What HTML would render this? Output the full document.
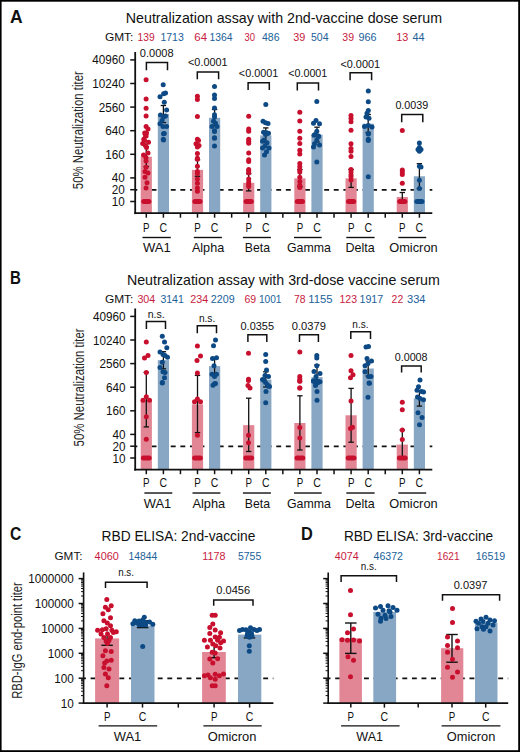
<!DOCTYPE html><html><head><meta charset="utf-8"><style>html,body{margin:0;padding:0;background:#000;width:520px;height:752px;overflow:hidden;font-family:"Liberation Sans",sans-serif;}svg{display:block;}</style></head><body>
<svg width="520" height="752" viewBox="0 0 520 752" font-family='"Liberation Sans", sans-serif'>
<rect x="0" y="0" width="520" height="752" fill="#000"/>
<rect x="1.6" y="1.7" width="516.6" height="748.5" fill="#fff"/>
<g id="A">
<text x="10" y="22.8" font-size="17.5" fill="#111" font-weight="bold">A</text>
<text x="125.8" y="23.3" font-size="14.5" fill="#111" font-weight="normal" textLength="316.2" lengthAdjust="spacingAndGlyphs">Neutralization assay with 2nd-vaccine dose serum</text>
<text x="104.9" y="41" font-size="10.8" fill="#111" font-weight="normal" textLength="28.5" lengthAdjust="spacingAndGlyphs">GMT:</text>
<text x="137.5" y="41" font-size="10.8" fill="#c81a3e" font-weight="normal" textLength="17.1" lengthAdjust="spacingAndGlyphs">139</text>
<text x="160.4" y="41" font-size="10.8" fill="#215f9a" font-weight="normal" textLength="23.4" lengthAdjust="spacingAndGlyphs">1713</text>
<text x="194.3" y="41" font-size="10.8" fill="#c81a3e" font-weight="normal" textLength="12.7" lengthAdjust="spacingAndGlyphs">64</text>
<text x="209.5" y="41" font-size="10.8" fill="#215f9a" font-weight="normal" textLength="23" lengthAdjust="spacingAndGlyphs">1364</text>
<text x="244.5" y="41" font-size="10.8" fill="#c81a3e" font-weight="normal" textLength="10.5" lengthAdjust="spacingAndGlyphs">30</text>
<text x="262" y="41" font-size="10.8" fill="#215f9a" font-weight="normal" textLength="17.5" lengthAdjust="spacingAndGlyphs">486</text>
<text x="293.3" y="41" font-size="10.8" fill="#c81a3e" font-weight="normal" textLength="12.1" lengthAdjust="spacingAndGlyphs">39</text>
<text x="311" y="41" font-size="10.8" fill="#215f9a" font-weight="normal" textLength="17.6" lengthAdjust="spacingAndGlyphs">504</text>
<text x="342.3" y="41" font-size="10.8" fill="#c81a3e" font-weight="normal" textLength="11.7" lengthAdjust="spacingAndGlyphs">39</text>
<text x="358.6" y="41" font-size="10.8" fill="#215f9a" font-weight="normal" textLength="18" lengthAdjust="spacingAndGlyphs">966</text>
<text x="396.2" y="41" font-size="10.8" fill="#c81a3e" font-weight="normal" textLength="12.1" lengthAdjust="spacingAndGlyphs">13</text>
<text x="412.5" y="41" font-size="10.8" fill="#215f9a" font-weight="normal" textLength="12.1" lengthAdjust="spacingAndGlyphs">44</text>
<line x1="135.2" y1="189.9" x2="432.3" y2="189.9" stroke="#111" stroke-width="1.8" stroke-dasharray="4.9 4.69" stroke-dashoffset="-6.8"/>
<rect x="140.7" y="156.7" width="11.2" height="56.3" fill="#e28696"/>
<rect x="157.8" y="113.94" width="11.2" height="99.06" fill="#88a7c4"/>
<rect x="191.9" y="169.9" width="11.2" height="43.1" fill="#e28696"/>
<rect x="209" y="117.82" width="11.2" height="95.18" fill="#88a7c4"/>
<rect x="243.1" y="182.8" width="11.2" height="30.2" fill="#e28696"/>
<rect x="260.2" y="135.39" width="11.2" height="77.61" fill="#88a7c4"/>
<rect x="294.3" y="178.33" width="11.2" height="34.67" fill="#e28696"/>
<rect x="311.4" y="134.77" width="11.2" height="78.23" fill="#88a7c4"/>
<rect x="345.5" y="178.33" width="11.2" height="34.67" fill="#e28696"/>
<rect x="362.6" y="123.69" width="11.2" height="89.31" fill="#88a7c4"/>
<rect x="396.7" y="197.03" width="11.2" height="15.97" fill="#e28696"/>
<rect x="413.8" y="176.28" width="11.2" height="36.72" fill="#88a7c4"/>
<line x1="146.3" y1="146.5" x2="146.3" y2="166.5" stroke="#111" stroke-width="1.3" />
<line x1="143.6" y1="146.5" x2="149" y2="146.5" stroke="#111" stroke-width="1.3" />
<line x1="143.6" y1="166.5" x2="149" y2="166.5" stroke="#111" stroke-width="1.3" />
<line x1="163.4" y1="105.5" x2="163.4" y2="122.6" stroke="#111" stroke-width="1.3" />
<line x1="160.7" y1="105.5" x2="166.1" y2="105.5" stroke="#111" stroke-width="1.3" />
<line x1="160.7" y1="122.6" x2="166.1" y2="122.6" stroke="#111" stroke-width="1.3" />
<line x1="197.5" y1="159.8" x2="197.5" y2="176.3" stroke="#111" stroke-width="1.3" />
<line x1="194.8" y1="159.8" x2="200.2" y2="159.8" stroke="#111" stroke-width="1.3" />
<line x1="194.8" y1="176.3" x2="200.2" y2="176.3" stroke="#111" stroke-width="1.3" />
<line x1="214.6" y1="109.5" x2="214.6" y2="125.7" stroke="#111" stroke-width="1.3" />
<line x1="211.9" y1="109.5" x2="217.3" y2="109.5" stroke="#111" stroke-width="1.3" />
<line x1="211.9" y1="125.7" x2="217.3" y2="125.7" stroke="#111" stroke-width="1.3" />
<line x1="248.7" y1="173.6" x2="248.7" y2="190.9" stroke="#111" stroke-width="1.3" />
<line x1="246" y1="173.6" x2="251.4" y2="173.6" stroke="#111" stroke-width="1.3" />
<line x1="246" y1="190.9" x2="251.4" y2="190.9" stroke="#111" stroke-width="1.3" />
<line x1="265.8" y1="127.9" x2="265.8" y2="142.5" stroke="#111" stroke-width="1.3" />
<line x1="263.1" y1="127.9" x2="268.5" y2="127.9" stroke="#111" stroke-width="1.3" />
<line x1="263.1" y1="142.5" x2="268.5" y2="142.5" stroke="#111" stroke-width="1.3" />
<line x1="299.9" y1="169.5" x2="299.9" y2="186.7" stroke="#111" stroke-width="1.3" />
<line x1="297.2" y1="169.5" x2="302.6" y2="169.5" stroke="#111" stroke-width="1.3" />
<line x1="297.2" y1="186.7" x2="302.6" y2="186.7" stroke="#111" stroke-width="1.3" />
<line x1="317" y1="127.2" x2="317" y2="142" stroke="#111" stroke-width="1.3" />
<line x1="314.3" y1="127.2" x2="319.7" y2="127.2" stroke="#111" stroke-width="1.3" />
<line x1="314.3" y1="142" x2="319.7" y2="142" stroke="#111" stroke-width="1.3" />
<line x1="351.1" y1="169.5" x2="351.1" y2="187.4" stroke="#111" stroke-width="1.3" />
<line x1="348.4" y1="169.5" x2="353.8" y2="169.5" stroke="#111" stroke-width="1.3" />
<line x1="348.4" y1="187.4" x2="353.8" y2="187.4" stroke="#111" stroke-width="1.3" />
<line x1="368.2" y1="114.5" x2="368.2" y2="132.5" stroke="#111" stroke-width="1.3" />
<line x1="365.5" y1="114.5" x2="370.9" y2="114.5" stroke="#111" stroke-width="1.3" />
<line x1="365.5" y1="132.5" x2="370.9" y2="132.5" stroke="#111" stroke-width="1.3" />
<line x1="402.3" y1="192.5" x2="402.3" y2="201" stroke="#111" stroke-width="1.3" />
<line x1="399.6" y1="192.5" x2="405" y2="192.5" stroke="#111" stroke-width="1.3" />
<line x1="399.6" y1="201" x2="405" y2="201" stroke="#111" stroke-width="1.3" />
<line x1="419.4" y1="163.7" x2="419.4" y2="188.6" stroke="#111" stroke-width="1.3" />
<line x1="416.7" y1="163.7" x2="422.1" y2="163.7" stroke="#111" stroke-width="1.3" />
<line x1="416.7" y1="188.6" x2="422.1" y2="188.6" stroke="#111" stroke-width="1.3" />
<circle cx="146.1" cy="79.7" r="2.5" fill="#c8102e"/>
<circle cx="146.1" cy="99.1" r="2.5" fill="#c8102e"/>
<circle cx="146.1" cy="108.2" r="2.5" fill="#c8102e"/>
<circle cx="146.1" cy="116.1" r="2.5" fill="#c8102e"/>
<circle cx="146.1" cy="126.5" r="2.5" fill="#c8102e"/>
<circle cx="148" cy="129" r="2.5" fill="#c8102e"/>
<circle cx="144.7" cy="132.9" r="2.5" fill="#c8102e"/>
<circle cx="146.1" cy="136" r="2.5" fill="#c8102e"/>
<circle cx="143.8" cy="139.3" r="2.5" fill="#c8102e"/>
<circle cx="146.5" cy="133" r="2.5" fill="#c8102e"/>
<circle cx="145.5" cy="135.9" r="2.5" fill="#c8102e"/>
<circle cx="144.5" cy="140.6" r="2.5" fill="#c8102e"/>
<circle cx="148.5" cy="142.2" r="2.5" fill="#c8102e"/>
<circle cx="142.7" cy="143.6" r="2.5" fill="#c8102e"/>
<circle cx="145.5" cy="145.4" r="2.5" fill="#c8102e"/>
<circle cx="146.5" cy="147.6" r="2.5" fill="#c8102e"/>
<circle cx="148" cy="152.9" r="2.5" fill="#c8102e"/>
<circle cx="143.5" cy="155" r="2.5" fill="#c8102e"/>
<circle cx="146" cy="157.7" r="2.5" fill="#c8102e"/>
<circle cx="146" cy="160.9" r="2.5" fill="#c8102e"/>
<circle cx="146" cy="167.2" r="2.5" fill="#c8102e"/>
<circle cx="145" cy="171.5" r="2.5" fill="#c8102e"/>
<circle cx="148" cy="173.1" r="2.5" fill="#c8102e"/>
<circle cx="145" cy="177.3" r="2.5" fill="#c8102e"/>
<circle cx="147" cy="182.7" r="2.5" fill="#c8102e"/>
<circle cx="146" cy="188" r="2.5" fill="#c8102e"/>
<circle cx="163.2" cy="84.7" r="2.5" fill="#0d4a85"/>
<circle cx="165.5" cy="93" r="2.5" fill="#0d4a85"/>
<circle cx="163.6" cy="93.8" r="2.5" fill="#0d4a85"/>
<circle cx="160" cy="96.7" r="2.5" fill="#0d4a85"/>
<circle cx="164.3" cy="102.3" r="2.5" fill="#0d4a85"/>
<circle cx="166.6" cy="110" r="2.5" fill="#0d4a85"/>
<circle cx="160.5" cy="115" r="2.5" fill="#0d4a85"/>
<circle cx="163.6" cy="117" r="2.5" fill="#0d4a85"/>
<circle cx="165.5" cy="116" r="2.5" fill="#0d4a85"/>
<circle cx="162" cy="120.6" r="2.5" fill="#0d4a85"/>
<circle cx="160" cy="123.8" r="2.5" fill="#0d4a85"/>
<circle cx="163" cy="126.5" r="2.5" fill="#0d4a85"/>
<circle cx="166.6" cy="126.5" r="2.5" fill="#0d4a85"/>
<circle cx="164.3" cy="133.4" r="2.5" fill="#0d4a85"/>
<circle cx="163.3" cy="139.3" r="2.5" fill="#0d4a85"/>
<circle cx="163.5" cy="133.7" r="2.5" fill="#0d4a85"/>
<circle cx="163.5" cy="140.1" r="2.5" fill="#0d4a85"/>
<circle cx="197.4" cy="96.2" r="2.5" fill="#c8102e"/>
<circle cx="197.4" cy="99.6" r="2.5" fill="#c8102e"/>
<circle cx="197.4" cy="116.4" r="2.5" fill="#c8102e"/>
<circle cx="197.4" cy="139.3" r="2.5" fill="#c8102e"/>
<circle cx="198.5" cy="140.6" r="2.5" fill="#c8102e"/>
<circle cx="196" cy="143.8" r="2.5" fill="#c8102e"/>
<circle cx="199" cy="145.4" r="2.5" fill="#c8102e"/>
<circle cx="197.4" cy="147" r="2.5" fill="#c8102e"/>
<circle cx="197.4" cy="153.4" r="2.5" fill="#c8102e"/>
<circle cx="197.4" cy="158.2" r="2.5" fill="#c8102e"/>
<circle cx="197.4" cy="159.3" r="2.5" fill="#c8102e"/>
<circle cx="197.4" cy="166.2" r="2.5" fill="#c8102e"/>
<circle cx="197.4" cy="171.5" r="2.5" fill="#c8102e"/>
<circle cx="197.4" cy="173.6" r="2.5" fill="#c8102e"/>
<circle cx="197.4" cy="178.9" r="2.5" fill="#c8102e"/>
<circle cx="197.4" cy="183.2" r="2.5" fill="#c8102e"/>
<circle cx="197.4" cy="188" r="2.5" fill="#c8102e"/>
<circle cx="197.4" cy="191.2" r="2.5" fill="#c8102e"/>
<circle cx="214.5" cy="86.6" r="2.5" fill="#0d4a85"/>
<circle cx="214.5" cy="95.1" r="2.5" fill="#0d4a85"/>
<circle cx="214.5" cy="98.5" r="2.5" fill="#0d4a85"/>
<circle cx="214.5" cy="107.9" r="2.5" fill="#0d4a85"/>
<circle cx="214.5" cy="114.8" r="2.5" fill="#0d4a85"/>
<circle cx="214.5" cy="116.9" r="2.5" fill="#0d4a85"/>
<circle cx="213.5" cy="121.2" r="2.5" fill="#0d4a85"/>
<circle cx="215.5" cy="123.3" r="2.5" fill="#0d4a85"/>
<circle cx="212" cy="126.5" r="2.5" fill="#0d4a85"/>
<circle cx="217" cy="126.5" r="2.5" fill="#0d4a85"/>
<circle cx="214.5" cy="130.7" r="2.5" fill="#0d4a85"/>
<circle cx="214.5" cy="137.7" r="2.5" fill="#0d4a85"/>
<circle cx="214.5" cy="131.6" r="2.5" fill="#0d4a85"/>
<circle cx="214.5" cy="138.3" r="2.5" fill="#0d4a85"/>
<circle cx="214.5" cy="146" r="2.5" fill="#0d4a85"/>
<circle cx="248.7" cy="116.2" r="2.5" fill="#c8102e"/>
<circle cx="248.7" cy="129.1" r="2.5" fill="#c8102e"/>
<circle cx="248.7" cy="131.3" r="2.5" fill="#c8102e"/>
<circle cx="248.7" cy="139.3" r="2.5" fill="#c8102e"/>
<circle cx="248.7" cy="141.2" r="2.5" fill="#c8102e"/>
<circle cx="248.7" cy="143.3" r="2.5" fill="#c8102e"/>
<circle cx="248.7" cy="152.9" r="2.5" fill="#c8102e"/>
<circle cx="248.7" cy="159.8" r="2.5" fill="#c8102e"/>
<circle cx="248.7" cy="161.4" r="2.5" fill="#c8102e"/>
<circle cx="248.7" cy="169.4" r="2.5" fill="#c8102e"/>
<circle cx="248.7" cy="171" r="2.5" fill="#c8102e"/>
<circle cx="248.7" cy="173.1" r="2.5" fill="#c8102e"/>
<circle cx="248.7" cy="178.9" r="2.5" fill="#c8102e"/>
<circle cx="248.7" cy="182.1" r="2.5" fill="#c8102e"/>
<circle cx="248.7" cy="184.3" r="2.5" fill="#c8102e"/>
<circle cx="248.7" cy="186.4" r="2.5" fill="#c8102e"/>
<circle cx="265.8" cy="104.5" r="2.5" fill="#0d4a85"/>
<circle cx="263" cy="121.2" r="2.5" fill="#0d4a85"/>
<circle cx="265.5" cy="122.8" r="2.5" fill="#0d4a85"/>
<circle cx="268" cy="123.6" r="2.5" fill="#0d4a85"/>
<circle cx="263.5" cy="132.3" r="2.5" fill="#0d4a85"/>
<circle cx="267" cy="133.4" r="2.5" fill="#0d4a85"/>
<circle cx="265.5" cy="134.5" r="2.5" fill="#0d4a85"/>
<circle cx="266.5" cy="132.7" r="2.5" fill="#0d4a85"/>
<circle cx="268.5" cy="133.2" r="2.5" fill="#0d4a85"/>
<circle cx="264" cy="140.1" r="2.5" fill="#0d4a85"/>
<circle cx="262.5" cy="141.2" r="2.5" fill="#0d4a85"/>
<circle cx="267" cy="142.8" r="2.5" fill="#0d4a85"/>
<circle cx="265" cy="146" r="2.5" fill="#0d4a85"/>
<circle cx="262.5" cy="148.1" r="2.5" fill="#0d4a85"/>
<circle cx="269" cy="148.1" r="2.5" fill="#0d4a85"/>
<circle cx="266.5" cy="151.8" r="2.5" fill="#0d4a85"/>
<circle cx="264.5" cy="155" r="2.5" fill="#0d4a85"/>
<circle cx="299.8" cy="112.3" r="2.5" fill="#c8102e"/>
<circle cx="299.8" cy="121" r="2.5" fill="#c8102e"/>
<circle cx="299.8" cy="131.3" r="2.5" fill="#c8102e"/>
<circle cx="299.8" cy="138.2" r="2.5" fill="#c8102e"/>
<circle cx="299.8" cy="143.6" r="2.5" fill="#c8102e"/>
<circle cx="299.8" cy="150.2" r="2.5" fill="#c8102e"/>
<circle cx="299.8" cy="153.9" r="2.5" fill="#c8102e"/>
<circle cx="299.8" cy="163.5" r="2.5" fill="#c8102e"/>
<circle cx="299.8" cy="166.7" r="2.5" fill="#c8102e"/>
<circle cx="299.8" cy="169.9" r="2.5" fill="#c8102e"/>
<circle cx="299.8" cy="172" r="2.5" fill="#c8102e"/>
<circle cx="299.8" cy="177.3" r="2.5" fill="#c8102e"/>
<circle cx="299.8" cy="181.6" r="2.5" fill="#c8102e"/>
<circle cx="299.8" cy="185.3" r="2.5" fill="#c8102e"/>
<circle cx="299.8" cy="187.4" r="2.5" fill="#c8102e"/>
<circle cx="316.8" cy="101.5" r="2.5" fill="#0d4a85"/>
<circle cx="316" cy="120.6" r="2.5" fill="#0d4a85"/>
<circle cx="313.5" cy="123.3" r="2.5" fill="#0d4a85"/>
<circle cx="319.5" cy="123.8" r="2.5" fill="#0d4a85"/>
<circle cx="316.8" cy="131.3" r="2.5" fill="#0d4a85"/>
<circle cx="315" cy="134.5" r="2.5" fill="#0d4a85"/>
<circle cx="318.5" cy="136" r="2.5" fill="#0d4a85"/>
<circle cx="314" cy="135.3" r="2.5" fill="#0d4a85"/>
<circle cx="318.5" cy="136.4" r="2.5" fill="#0d4a85"/>
<circle cx="316.8" cy="140.1" r="2.5" fill="#0d4a85"/>
<circle cx="314.5" cy="143.8" r="2.5" fill="#0d4a85"/>
<circle cx="319.5" cy="144.9" r="2.5" fill="#0d4a85"/>
<circle cx="313.5" cy="147" r="2.5" fill="#0d4a85"/>
<circle cx="316.8" cy="161.9" r="2.5" fill="#0d4a85"/>
<circle cx="351" cy="115.5" r="2.5" fill="#c8102e"/>
<circle cx="351" cy="118.5" r="2.5" fill="#c8102e"/>
<circle cx="351" cy="121.7" r="2.5" fill="#c8102e"/>
<circle cx="351" cy="130.2" r="2.5" fill="#c8102e"/>
<circle cx="351" cy="143.8" r="2.5" fill="#c8102e"/>
<circle cx="351" cy="148.6" r="2.5" fill="#c8102e"/>
<circle cx="351" cy="151.3" r="2.5" fill="#c8102e"/>
<circle cx="351" cy="156.6" r="2.5" fill="#c8102e"/>
<circle cx="351" cy="169.4" r="2.5" fill="#c8102e"/>
<circle cx="351" cy="172" r="2.5" fill="#c8102e"/>
<circle cx="351" cy="174.7" r="2.5" fill="#c8102e"/>
<circle cx="351" cy="176.8" r="2.5" fill="#c8102e"/>
<circle cx="351" cy="180" r="2.5" fill="#c8102e"/>
<circle cx="368.3" cy="90.9" r="2.5" fill="#0d4a85"/>
<circle cx="368.3" cy="101.7" r="2.5" fill="#0d4a85"/>
<circle cx="368.3" cy="110.5" r="2.5" fill="#0d4a85"/>
<circle cx="367" cy="113.2" r="2.5" fill="#0d4a85"/>
<circle cx="366" cy="116.9" r="2.5" fill="#0d4a85"/>
<circle cx="369" cy="118.3" r="2.5" fill="#0d4a85"/>
<circle cx="364.5" cy="126.5" r="2.5" fill="#0d4a85"/>
<circle cx="368.3" cy="125.4" r="2.5" fill="#0d4a85"/>
<circle cx="372" cy="127" r="2.5" fill="#0d4a85"/>
<circle cx="368.3" cy="133.4" r="2.5" fill="#0d4a85"/>
<circle cx="368.3" cy="139.3" r="2.5" fill="#0d4a85"/>
<circle cx="368.3" cy="134" r="2.5" fill="#0d4a85"/>
<circle cx="368.3" cy="140.6" r="2.5" fill="#0d4a85"/>
<circle cx="368.3" cy="176.8" r="2.5" fill="#0d4a85"/>
<circle cx="402.3" cy="130.5" r="2.5" fill="#c8102e"/>
<circle cx="402.3" cy="170" r="2.5" fill="#c8102e"/>
<circle cx="402.3" cy="172" r="2.5" fill="#c8102e"/>
<circle cx="402.3" cy="174.4" r="2.5" fill="#c8102e"/>
<circle cx="402.3" cy="183.2" r="2.5" fill="#c8102e"/>
<circle cx="419.4" cy="142.9" r="2.5" fill="#0d4a85"/>
<circle cx="419.4" cy="147.6" r="2.5" fill="#0d4a85"/>
<circle cx="418" cy="149.5" r="2.5" fill="#0d4a85"/>
<circle cx="421" cy="149.5" r="2.5" fill="#0d4a85"/>
<circle cx="419.4" cy="151.2" r="2.5" fill="#0d4a85"/>
<circle cx="419.4" cy="166.2" r="2.5" fill="#0d4a85"/>
<circle cx="421" cy="167" r="2.5" fill="#0d4a85"/>
<circle cx="419.4" cy="180.2" r="2.5" fill="#0d4a85"/>
<circle cx="419.4" cy="188.6" r="2.5" fill="#0d4a85"/>
<line x1="135.2" y1="52" x2="135.2" y2="214.1" stroke="#111" stroke-width="1.8" />
<line x1="134.3" y1="213.2" x2="432.3" y2="213.2" stroke="#111" stroke-width="1.8" />
<line x1="130.2" y1="59.9" x2="135.2" y2="59.9" stroke="#111" stroke-width="1.5" />
<text x="92.3" y="64.4" font-size="12.3" fill="#111" font-weight="normal" textLength="32.6" lengthAdjust="spacingAndGlyphs">40960</text>
<line x1="130.2" y1="83.5" x2="135.2" y2="83.5" stroke="#111" stroke-width="1.5" />
<text x="92.3" y="88" font-size="12.3" fill="#111" font-weight="normal" textLength="32.6" lengthAdjust="spacingAndGlyphs">10240</text>
<line x1="130.2" y1="107.1" x2="135.2" y2="107.1" stroke="#111" stroke-width="1.5" />
<text x="98.82" y="111.6" font-size="12.3" fill="#111" font-weight="normal" textLength="26.08" lengthAdjust="spacingAndGlyphs">2560</text>
<line x1="130.2" y1="130.7" x2="135.2" y2="130.7" stroke="#111" stroke-width="1.5" />
<text x="105.34" y="135.2" font-size="12.3" fill="#111" font-weight="normal" textLength="19.56" lengthAdjust="spacingAndGlyphs">640</text>
<line x1="130.2" y1="154.3" x2="135.2" y2="154.3" stroke="#111" stroke-width="1.5" />
<text x="105.34" y="158.8" font-size="12.3" fill="#111" font-weight="normal" textLength="19.56" lengthAdjust="spacingAndGlyphs">160</text>
<line x1="130.2" y1="177.9" x2="135.2" y2="177.9" stroke="#111" stroke-width="1.5" />
<text x="111.86" y="182.4" font-size="12.3" fill="#111" font-weight="normal" textLength="13.04" lengthAdjust="spacingAndGlyphs">40</text>
<line x1="130.2" y1="189.7" x2="135.2" y2="189.7" stroke="#111" stroke-width="1.5" />
<text x="111.86" y="194.2" font-size="12.3" fill="#111" font-weight="normal" textLength="13.04" lengthAdjust="spacingAndGlyphs">20</text>
<line x1="130.2" y1="201.5" x2="135.2" y2="201.5" stroke="#111" stroke-width="1.5" />
<text x="111.86" y="206" font-size="12.3" fill="#111" font-weight="normal" textLength="13.04" lengthAdjust="spacingAndGlyphs">10</text>
<line x1="146.3" y1="213" x2="146.3" y2="217.7" stroke="#111" stroke-width="1.5" />
<line x1="163.4" y1="213" x2="163.4" y2="217.7" stroke="#111" stroke-width="1.5" />
<line x1="180.45" y1="213" x2="180.45" y2="217.7" stroke="#111" stroke-width="1.5" />
<text x="143.1" y="231.5" font-size="12" fill="#111" font-weight="normal" textLength="6.5" lengthAdjust="spacingAndGlyphs">P</text>
<text x="159.6" y="231.5" font-size="12" fill="#111" font-weight="normal" textLength="7.6" lengthAdjust="spacingAndGlyphs">C</text>
<line x1="142.5" y1="237.5" x2="170.8" y2="237.5" stroke="#111" stroke-width="1.4" />
<text x="143" y="252.3" font-size="12.2" fill="#111" font-weight="normal" textLength="27.8" lengthAdjust="spacingAndGlyphs">WA1</text>
<line x1="197.5" y1="213" x2="197.5" y2="217.7" stroke="#111" stroke-width="1.5" />
<line x1="214.6" y1="213" x2="214.6" y2="217.7" stroke="#111" stroke-width="1.5" />
<line x1="231.65" y1="213" x2="231.65" y2="217.7" stroke="#111" stroke-width="1.5" />
<text x="194.3" y="231.5" font-size="12" fill="#111" font-weight="normal" textLength="6.5" lengthAdjust="spacingAndGlyphs">P</text>
<text x="210.8" y="231.5" font-size="12" fill="#111" font-weight="normal" textLength="7.6" lengthAdjust="spacingAndGlyphs">C</text>
<line x1="193.8" y1="237.5" x2="221.9" y2="237.5" stroke="#111" stroke-width="1.4" />
<text x="191.9" y="252.3" font-size="12.2" fill="#111" font-weight="normal" textLength="32.3" lengthAdjust="spacingAndGlyphs">Alpha</text>
<line x1="248.7" y1="213" x2="248.7" y2="217.7" stroke="#111" stroke-width="1.5" />
<line x1="265.8" y1="213" x2="265.8" y2="217.7" stroke="#111" stroke-width="1.5" />
<line x1="282.85" y1="213" x2="282.85" y2="217.7" stroke="#111" stroke-width="1.5" />
<text x="245.5" y="231.5" font-size="12" fill="#111" font-weight="normal" textLength="6.5" lengthAdjust="spacingAndGlyphs">P</text>
<text x="262" y="231.5" font-size="12" fill="#111" font-weight="normal" textLength="7.6" lengthAdjust="spacingAndGlyphs">C</text>
<line x1="242.9" y1="237.5" x2="270.9" y2="237.5" stroke="#111" stroke-width="1.4" />
<text x="244.8" y="252.3" font-size="12.2" fill="#111" font-weight="normal" textLength="25.2" lengthAdjust="spacingAndGlyphs">Beta</text>
<line x1="299.9" y1="213" x2="299.9" y2="217.7" stroke="#111" stroke-width="1.5" />
<line x1="317" y1="213" x2="317" y2="217.7" stroke="#111" stroke-width="1.5" />
<line x1="334.05" y1="213" x2="334.05" y2="217.7" stroke="#111" stroke-width="1.5" />
<text x="296.7" y="231.5" font-size="12" fill="#111" font-weight="normal" textLength="6.5" lengthAdjust="spacingAndGlyphs">P</text>
<text x="313.2" y="231.5" font-size="12" fill="#111" font-weight="normal" textLength="7.6" lengthAdjust="spacingAndGlyphs">C</text>
<line x1="294" y1="237.5" x2="321.7" y2="237.5" stroke="#111" stroke-width="1.4" />
<text x="286.9" y="252.3" font-size="12.2" fill="#111" font-weight="normal" textLength="44" lengthAdjust="spacingAndGlyphs">Gamma</text>
<line x1="351.1" y1="213" x2="351.1" y2="217.7" stroke="#111" stroke-width="1.5" />
<line x1="368.2" y1="213" x2="368.2" y2="217.7" stroke="#111" stroke-width="1.5" />
<line x1="385.25" y1="213" x2="385.25" y2="217.7" stroke="#111" stroke-width="1.5" />
<text x="347.9" y="231.5" font-size="12" fill="#111" font-weight="normal" textLength="6.5" lengthAdjust="spacingAndGlyphs">P</text>
<text x="364.4" y="231.5" font-size="12" fill="#111" font-weight="normal" textLength="7.6" lengthAdjust="spacingAndGlyphs">C</text>
<line x1="346.3" y1="237.5" x2="374.6" y2="237.5" stroke="#111" stroke-width="1.4" />
<text x="345.4" y="252.3" font-size="12.2" fill="#111" font-weight="normal" textLength="29.2" lengthAdjust="spacingAndGlyphs">Delta</text>
<line x1="402.3" y1="213" x2="402.3" y2="217.7" stroke="#111" stroke-width="1.5" />
<line x1="419.4" y1="213" x2="419.4" y2="217.7" stroke="#111" stroke-width="1.5" />
<text x="399.1" y="231.5" font-size="12" fill="#111" font-weight="normal" textLength="6.5" lengthAdjust="spacingAndGlyphs">P</text>
<text x="415.6" y="231.5" font-size="12" fill="#111" font-weight="normal" textLength="7.6" lengthAdjust="spacingAndGlyphs">C</text>
<line x1="398.3" y1="237.5" x2="426.2" y2="237.5" stroke="#111" stroke-width="1.4" />
<text x="389.2" y="252.3" font-size="12.2" fill="#111" font-weight="normal" textLength="48.5" lengthAdjust="spacingAndGlyphs">Omicron</text>
<polyline points="146.4,70.2 146.4,62.5 167.5,62.5 167.5,70.2" fill="none" stroke="#111" stroke-width="1.5"/>
<text x="139.8" y="56.6" font-size="10.5" fill="#111" font-weight="normal" textLength="33.8" lengthAdjust="spacingAndGlyphs">0.0008</text>
<polyline points="197.3,79.3 197.3,72 218.6,72 218.6,79.3" fill="none" stroke="#111" stroke-width="1.5"/>
<text x="188" y="65.7" font-size="10.5" fill="#111" font-weight="normal" textLength="39.6" lengthAdjust="spacingAndGlyphs">&lt;0.0001</text>
<polyline points="248.1,90 248.1,82.8 269.3,82.8 269.3,90" fill="none" stroke="#111" stroke-width="1.5"/>
<text x="238.8" y="77" font-size="10.5" fill="#111" font-weight="normal" textLength="39.5" lengthAdjust="spacingAndGlyphs">&lt;0.0001</text>
<polyline points="297.3,90.4 297.3,83.1 318.5,83.1 318.5,90.4" fill="none" stroke="#111" stroke-width="1.5"/>
<text x="288.2" y="77" font-size="10.5" fill="#111" font-weight="normal" textLength="39.1" lengthAdjust="spacingAndGlyphs">&lt;0.0001</text>
<polyline points="350.1,80.2 350.1,72.8 371.6,72.8 371.6,80.2" fill="none" stroke="#111" stroke-width="1.5"/>
<text x="340.4" y="67.9" font-size="10.5" fill="#111" font-weight="normal" textLength="39.7" lengthAdjust="spacingAndGlyphs">&lt;0.0001</text>
<polyline points="401.7,122.3 401.7,114.6 422.8,114.6 422.8,122.3" fill="none" stroke="#111" stroke-width="1.5"/>
<text x="395.4" y="108.8" font-size="10.5" fill="#111" font-weight="normal" textLength="32.9" lengthAdjust="spacingAndGlyphs">0.0039</text>
<text transform="translate(83.4,189.2) rotate(-90)" x="0" y="0" font-size="14.5" fill="#262626" textLength="118" lengthAdjust="spacingAndGlyphs">50% Neutralization titer</text>
<line x1="143.7" y1="201.5" x2="148.9" y2="201.5" stroke="#c8102e" stroke-width="5" stroke-linecap="round"/>
<line x1="194.9" y1="201.5" x2="200.1" y2="201.5" stroke="#c8102e" stroke-width="5" stroke-linecap="round"/>
<line x1="246.1" y1="201.5" x2="251.3" y2="201.5" stroke="#c8102e" stroke-width="5" stroke-linecap="round"/>
<line x1="297.3" y1="201.5" x2="302.5" y2="201.5" stroke="#c8102e" stroke-width="5" stroke-linecap="round"/>
<line x1="348.5" y1="201.5" x2="353.7" y2="201.5" stroke="#c8102e" stroke-width="5" stroke-linecap="round"/>
<line x1="399.7" y1="201.5" x2="404.9" y2="201.5" stroke="#c8102e" stroke-width="5" stroke-linecap="round"/>
<line x1="416.8" y1="201.5" x2="422" y2="201.5" stroke="#0d4a85" stroke-width="5" stroke-linecap="round"/>
</g>
<g id="B">
<text x="10" y="284.3" font-size="17.5" fill="#111" font-weight="bold" textLength="10.9" lengthAdjust="spacingAndGlyphs">B</text>
<text x="126.9" y="284.8" font-size="14.5" fill="#111" font-weight="normal" textLength="313" lengthAdjust="spacingAndGlyphs">Neutralization assay with 3rd-dose vaccine serum</text>
<text x="104.9" y="302.5" font-size="10.8" fill="#111" font-weight="normal" textLength="28.5" lengthAdjust="spacingAndGlyphs">GMT:</text>
<text x="137.4" y="302.5" font-size="10.8" fill="#c81a3e" font-weight="normal" textLength="17.8" lengthAdjust="spacingAndGlyphs">304</text>
<text x="160.4" y="302.5" font-size="10.8" fill="#215f9a" font-weight="normal" textLength="23.4" lengthAdjust="spacingAndGlyphs">3141</text>
<text x="190.2" y="302.5" font-size="10.8" fill="#c81a3e" font-weight="normal" textLength="18" lengthAdjust="spacingAndGlyphs">234</text>
<text x="210.8" y="302.5" font-size="10.8" fill="#215f9a" font-weight="normal" textLength="23.8" lengthAdjust="spacingAndGlyphs">2209</text>
<text x="244.4" y="302.5" font-size="10.8" fill="#c81a3e" font-weight="normal" textLength="11.7" lengthAdjust="spacingAndGlyphs">69</text>
<text x="259" y="302.5" font-size="10.8" fill="#215f9a" font-weight="normal" textLength="22.5" lengthAdjust="spacingAndGlyphs">1001</text>
<text x="294" y="302.5" font-size="10.8" fill="#c81a3e" font-weight="normal" textLength="11.6" lengthAdjust="spacingAndGlyphs">78</text>
<text x="308.3" y="302.5" font-size="10.8" fill="#215f9a" font-weight="normal" textLength="24.3" lengthAdjust="spacingAndGlyphs">1155</text>
<text x="339.5" y="302.5" font-size="10.8" fill="#c81a3e" font-weight="normal" textLength="17.5" lengthAdjust="spacingAndGlyphs">123</text>
<text x="359.5" y="302.5" font-size="10.8" fill="#215f9a" font-weight="normal" textLength="23.7" lengthAdjust="spacingAndGlyphs">1917</text>
<text x="391.6" y="302.5" font-size="10.8" fill="#c81a3e" font-weight="normal" textLength="11.6" lengthAdjust="spacingAndGlyphs">22</text>
<text x="407" y="302.5" font-size="10.8" fill="#215f9a" font-weight="normal" textLength="18.5" lengthAdjust="spacingAndGlyphs">334</text>
<line x1="135.2" y1="446.4" x2="432.3" y2="446.4" stroke="#111" stroke-width="1.8" stroke-dasharray="4.9 4.69" stroke-dashoffset="-6.8"/>
<rect x="140.7" y="399.87" width="11.2" height="69.63" fill="#e28696"/>
<rect x="157.8" y="360.12" width="11.2" height="109.38" fill="#88a7c4"/>
<rect x="191.9" y="404.33" width="11.2" height="65.17" fill="#e28696"/>
<rect x="209" y="366.11" width="11.2" height="103.39" fill="#88a7c4"/>
<rect x="243.1" y="425.12" width="11.2" height="44.38" fill="#e28696"/>
<rect x="260.2" y="379.59" width="11.2" height="89.91" fill="#88a7c4"/>
<rect x="294.3" y="423.03" width="11.2" height="46.47" fill="#e28696"/>
<rect x="311.4" y="377.15" width="11.2" height="92.35" fill="#88a7c4"/>
<rect x="345.5" y="415.28" width="11.2" height="54.22" fill="#e28696"/>
<rect x="362.6" y="368.52" width="11.2" height="100.98" fill="#88a7c4"/>
<rect x="396.7" y="444.58" width="11.2" height="24.92" fill="#e28696"/>
<rect x="413.8" y="398.27" width="11.2" height="71.23" fill="#88a7c4"/>
<line x1="146.3" y1="372.4" x2="146.3" y2="426.9" stroke="#111" stroke-width="1.3" />
<line x1="143.6" y1="372.4" x2="149" y2="372.4" stroke="#111" stroke-width="1.3" />
<line x1="143.6" y1="426.9" x2="149" y2="426.9" stroke="#111" stroke-width="1.3" />
<line x1="163.4" y1="351.7" x2="163.4" y2="368.8" stroke="#111" stroke-width="1.3" />
<line x1="160.7" y1="351.7" x2="166.1" y2="351.7" stroke="#111" stroke-width="1.3" />
<line x1="160.7" y1="368.8" x2="166.1" y2="368.8" stroke="#111" stroke-width="1.3" />
<line x1="197.5" y1="375.4" x2="197.5" y2="432.6" stroke="#111" stroke-width="1.3" />
<line x1="194.8" y1="375.4" x2="200.2" y2="375.4" stroke="#111" stroke-width="1.3" />
<line x1="194.8" y1="432.6" x2="200.2" y2="432.6" stroke="#111" stroke-width="1.3" />
<line x1="214.6" y1="357.5" x2="214.6" y2="374" stroke="#111" stroke-width="1.3" />
<line x1="211.9" y1="357.5" x2="217.3" y2="357.5" stroke="#111" stroke-width="1.3" />
<line x1="211.9" y1="374" x2="217.3" y2="374" stroke="#111" stroke-width="1.3" />
<line x1="248.7" y1="398.2" x2="248.7" y2="451.5" stroke="#111" stroke-width="1.3" />
<line x1="246" y1="398.2" x2="251.4" y2="398.2" stroke="#111" stroke-width="1.3" />
<line x1="246" y1="451.5" x2="251.4" y2="451.5" stroke="#111" stroke-width="1.3" />
<line x1="265.8" y1="371.8" x2="265.8" y2="387" stroke="#111" stroke-width="1.3" />
<line x1="263.1" y1="371.8" x2="268.5" y2="371.8" stroke="#111" stroke-width="1.3" />
<line x1="263.1" y1="387" x2="268.5" y2="387" stroke="#111" stroke-width="1.3" />
<line x1="299.9" y1="395.8" x2="299.9" y2="450" stroke="#111" stroke-width="1.3" />
<line x1="297.2" y1="395.8" x2="302.6" y2="395.8" stroke="#111" stroke-width="1.3" />
<line x1="297.2" y1="450" x2="302.6" y2="450" stroke="#111" stroke-width="1.3" />
<line x1="317" y1="365" x2="317" y2="380" stroke="#111" stroke-width="1.3" />
<line x1="314.3" y1="365" x2="319.7" y2="365" stroke="#111" stroke-width="1.3" />
<line x1="314.3" y1="380" x2="319.7" y2="380" stroke="#111" stroke-width="1.3" />
<line x1="351.1" y1="388.4" x2="351.1" y2="442.2" stroke="#111" stroke-width="1.3" />
<line x1="348.4" y1="388.4" x2="353.8" y2="388.4" stroke="#111" stroke-width="1.3" />
<line x1="348.4" y1="442.2" x2="353.8" y2="442.2" stroke="#111" stroke-width="1.3" />
<line x1="368.2" y1="361" x2="368.2" y2="376" stroke="#111" stroke-width="1.3" />
<line x1="365.5" y1="361" x2="370.9" y2="361" stroke="#111" stroke-width="1.3" />
<line x1="365.5" y1="376" x2="370.9" y2="376" stroke="#111" stroke-width="1.3" />
<line x1="402.3" y1="430" x2="402.3" y2="457.8" stroke="#111" stroke-width="1.3" />
<line x1="399.6" y1="430" x2="405" y2="430" stroke="#111" stroke-width="1.3" />
<line x1="399.6" y1="457.8" x2="405" y2="457.8" stroke="#111" stroke-width="1.3" />
<line x1="419.4" y1="390.5" x2="419.4" y2="406.1" stroke="#111" stroke-width="1.3" />
<line x1="416.7" y1="390.5" x2="422.1" y2="390.5" stroke="#111" stroke-width="1.3" />
<line x1="416.7" y1="406.1" x2="422.1" y2="406.1" stroke="#111" stroke-width="1.3" />
<circle cx="146.3" cy="342.1" r="2.5" fill="#c8102e"/>
<circle cx="148" cy="355.6" r="2.5" fill="#c8102e"/>
<circle cx="144.5" cy="358" r="2.5" fill="#c8102e"/>
<circle cx="146.3" cy="372.4" r="2.5" fill="#c8102e"/>
<circle cx="146.3" cy="396.7" r="2.5" fill="#c8102e"/>
<circle cx="143" cy="400.3" r="2.5" fill="#c8102e"/>
<circle cx="149.5" cy="400.3" r="2.5" fill="#c8102e"/>
<circle cx="146.3" cy="416.8" r="2.5" fill="#c8102e"/>
<circle cx="146.3" cy="439.2" r="2.5" fill="#c8102e"/>
<circle cx="162.3" cy="336.2" r="2.5" fill="#0d4a85"/>
<circle cx="164.5" cy="341.9" r="2.5" fill="#0d4a85"/>
<circle cx="166.8" cy="347.8" r="2.5" fill="#0d4a85"/>
<circle cx="160" cy="352" r="2.5" fill="#0d4a85"/>
<circle cx="163" cy="354.4" r="2.5" fill="#0d4a85"/>
<circle cx="165" cy="355.6" r="2.5" fill="#0d4a85"/>
<circle cx="167.5" cy="357.2" r="2.5" fill="#0d4a85"/>
<circle cx="162.3" cy="362.2" r="2.5" fill="#0d4a85"/>
<circle cx="160" cy="367.6" r="2.5" fill="#0d4a85"/>
<circle cx="163" cy="371.8" r="2.5" fill="#0d4a85"/>
<circle cx="165" cy="372.4" r="2.5" fill="#0d4a85"/>
<circle cx="164.5" cy="377.8" r="2.5" fill="#0d4a85"/>
<circle cx="162.3" cy="382.5" r="2.5" fill="#0d4a85"/>
<circle cx="162.3" cy="383" r="2.5" fill="#0d4a85"/>
<circle cx="197.4" cy="346" r="2.5" fill="#c8102e"/>
<circle cx="200.5" cy="356" r="2.5" fill="#c8102e"/>
<circle cx="197" cy="360.4" r="2.5" fill="#c8102e"/>
<circle cx="197.4" cy="373" r="2.5" fill="#c8102e"/>
<circle cx="197.4" cy="399.1" r="2.5" fill="#c8102e"/>
<circle cx="194.5" cy="401.8" r="2.5" fill="#c8102e"/>
<circle cx="200.5" cy="401.8" r="2.5" fill="#c8102e"/>
<circle cx="197.4" cy="435.3" r="2.5" fill="#c8102e"/>
<circle cx="215.5" cy="340" r="2.5" fill="#0d4a85"/>
<circle cx="213.5" cy="345.7" r="2.5" fill="#0d4a85"/>
<circle cx="212.5" cy="358.6" r="2.5" fill="#0d4a85"/>
<circle cx="216.5" cy="357.7" r="2.5" fill="#0d4a85"/>
<circle cx="214" cy="365.8" r="2.5" fill="#0d4a85"/>
<circle cx="212" cy="374.2" r="2.5" fill="#0d4a85"/>
<circle cx="216.5" cy="374.2" r="2.5" fill="#0d4a85"/>
<circle cx="214.5" cy="376.6" r="2.5" fill="#0d4a85"/>
<circle cx="214.5" cy="383.7" r="2.5" fill="#0d4a85"/>
<circle cx="213" cy="385.2" r="2.5" fill="#0d4a85"/>
<circle cx="215.5" cy="383.6" r="2.5" fill="#0d4a85"/>
<circle cx="248.5" cy="353.2" r="2.5" fill="#c8102e"/>
<circle cx="248.5" cy="379.2" r="2.5" fill="#c8102e"/>
<circle cx="248" cy="385.5" r="2.5" fill="#c8102e"/>
<circle cx="250" cy="387.9" r="2.5" fill="#c8102e"/>
<circle cx="248.5" cy="380.6" r="2.5" fill="#c8102e"/>
<circle cx="248.5" cy="435.3" r="2.5" fill="#c8102e"/>
<circle cx="248.5" cy="442.8" r="2.5" fill="#c8102e"/>
<circle cx="265.7" cy="354.4" r="2.5" fill="#0d4a85"/>
<circle cx="265.7" cy="361.6" r="2.5" fill="#0d4a85"/>
<circle cx="266.5" cy="370" r="2.5" fill="#0d4a85"/>
<circle cx="265" cy="375.4" r="2.5" fill="#0d4a85"/>
<circle cx="268.5" cy="376.6" r="2.5" fill="#0d4a85"/>
<circle cx="262.5" cy="379.5" r="2.5" fill="#0d4a85"/>
<circle cx="265.5" cy="382.5" r="2.5" fill="#0d4a85"/>
<circle cx="268" cy="386.1" r="2.5" fill="#0d4a85"/>
<circle cx="264" cy="380.6" r="2.5" fill="#0d4a85"/>
<circle cx="267.5" cy="384.8" r="2.5" fill="#0d4a85"/>
<circle cx="269.5" cy="386.6" r="2.5" fill="#0d4a85"/>
<circle cx="266" cy="391.4" r="2.5" fill="#0d4a85"/>
<circle cx="265.7" cy="402.7" r="2.5" fill="#0d4a85"/>
<circle cx="299.8" cy="352" r="2.5" fill="#c8102e"/>
<circle cx="299.8" cy="376.6" r="2.5" fill="#c8102e"/>
<circle cx="299.8" cy="379" r="2.5" fill="#c8102e"/>
<circle cx="299.8" cy="381.1" r="2.5" fill="#c8102e"/>
<circle cx="299.8" cy="387.9" r="2.5" fill="#c8102e"/>
<circle cx="299.8" cy="381.2" r="2.5" fill="#c8102e"/>
<circle cx="299.8" cy="388.1" r="2.5" fill="#c8102e"/>
<circle cx="299.8" cy="427.6" r="2.5" fill="#c8102e"/>
<circle cx="299.8" cy="438" r="2.5" fill="#c8102e"/>
<circle cx="316.8" cy="355.6" r="2.5" fill="#0d4a85"/>
<circle cx="316.8" cy="358" r="2.5" fill="#0d4a85"/>
<circle cx="316.8" cy="365.8" r="2.5" fill="#0d4a85"/>
<circle cx="314" cy="371.5" r="2.5" fill="#0d4a85"/>
<circle cx="320" cy="373.6" r="2.5" fill="#0d4a85"/>
<circle cx="316" cy="376.6" r="2.5" fill="#0d4a85"/>
<circle cx="313.5" cy="380.7" r="2.5" fill="#0d4a85"/>
<circle cx="318" cy="382.5" r="2.5" fill="#0d4a85"/>
<circle cx="316" cy="383.7" r="2.5" fill="#0d4a85"/>
<circle cx="313.5" cy="381.2" r="2.5" fill="#0d4a85"/>
<circle cx="317" cy="381.2" r="2.5" fill="#0d4a85"/>
<circle cx="320" cy="381.8" r="2.5" fill="#0d4a85"/>
<circle cx="315.5" cy="385.4" r="2.5" fill="#0d4a85"/>
<circle cx="317" cy="391.4" r="2.5" fill="#0d4a85"/>
<circle cx="317" cy="400.3" r="2.5" fill="#0d4a85"/>
<circle cx="351" cy="355.6" r="2.5" fill="#c8102e"/>
<circle cx="351" cy="370.8" r="2.5" fill="#c8102e"/>
<circle cx="353" cy="374.8" r="2.5" fill="#c8102e"/>
<circle cx="350.5" cy="377.8" r="2.5" fill="#c8102e"/>
<circle cx="351" cy="400.9" r="2.5" fill="#c8102e"/>
<circle cx="350.5" cy="428.4" r="2.5" fill="#c8102e"/>
<circle cx="352.5" cy="427.2" r="2.5" fill="#c8102e"/>
<circle cx="368.5" cy="346.4" r="2.5" fill="#0d4a85"/>
<circle cx="366" cy="347" r="2.5" fill="#0d4a85"/>
<circle cx="367" cy="358.6" r="2.5" fill="#0d4a85"/>
<circle cx="371.5" cy="361" r="2.5" fill="#0d4a85"/>
<circle cx="368" cy="363.4" r="2.5" fill="#0d4a85"/>
<circle cx="365" cy="365.8" r="2.5" fill="#0d4a85"/>
<circle cx="365" cy="371.8" r="2.5" fill="#0d4a85"/>
<circle cx="368.5" cy="376.6" r="2.5" fill="#0d4a85"/>
<circle cx="371" cy="376.6" r="2.5" fill="#0d4a85"/>
<circle cx="369" cy="383.1" r="2.5" fill="#0d4a85"/>
<circle cx="369.5" cy="383.3" r="2.5" fill="#0d4a85"/>
<circle cx="368" cy="397.3" r="2.5" fill="#0d4a85"/>
<circle cx="402.3" cy="402.3" r="2.5" fill="#c8102e"/>
<circle cx="402.3" cy="409.7" r="2.5" fill="#c8102e"/>
<circle cx="402.3" cy="430" r="2.5" fill="#c8102e"/>
<circle cx="402.3" cy="439.5" r="2.5" fill="#c8102e"/>
<circle cx="420" cy="380.1" r="2.5" fill="#0d4a85"/>
<circle cx="418.5" cy="386.7" r="2.5" fill="#0d4a85"/>
<circle cx="417" cy="390.2" r="2.5" fill="#0d4a85"/>
<circle cx="421.5" cy="391.6" r="2.5" fill="#0d4a85"/>
<circle cx="423.5" cy="391.9" r="2.5" fill="#0d4a85"/>
<circle cx="417.5" cy="397.1" r="2.5" fill="#0d4a85"/>
<circle cx="420" cy="398.5" r="2.5" fill="#0d4a85"/>
<circle cx="423.5" cy="399.7" r="2.5" fill="#0d4a85"/>
<circle cx="418" cy="412.7" r="2.5" fill="#0d4a85"/>
<circle cx="422" cy="417.5" r="2.5" fill="#0d4a85"/>
<circle cx="419.5" cy="424.8" r="2.5" fill="#0d4a85"/>
<line x1="135.2" y1="308.5" x2="135.2" y2="470.6" stroke="#111" stroke-width="1.8" />
<line x1="134.3" y1="469.7" x2="432.3" y2="469.7" stroke="#111" stroke-width="1.8" />
<line x1="130.2" y1="316.4" x2="135.2" y2="316.4" stroke="#111" stroke-width="1.5" />
<text x="92.9" y="320.9" font-size="12.3" fill="#111" font-weight="normal" textLength="32.6" lengthAdjust="spacingAndGlyphs">40960</text>
<line x1="130.2" y1="340" x2="135.2" y2="340" stroke="#111" stroke-width="1.5" />
<text x="92.9" y="344.5" font-size="12.3" fill="#111" font-weight="normal" textLength="32.6" lengthAdjust="spacingAndGlyphs">10240</text>
<line x1="130.2" y1="363.6" x2="135.2" y2="363.6" stroke="#111" stroke-width="1.5" />
<text x="99.42" y="368.1" font-size="12.3" fill="#111" font-weight="normal" textLength="26.08" lengthAdjust="spacingAndGlyphs">2560</text>
<line x1="130.2" y1="387.2" x2="135.2" y2="387.2" stroke="#111" stroke-width="1.5" />
<text x="105.94" y="391.7" font-size="12.3" fill="#111" font-weight="normal" textLength="19.56" lengthAdjust="spacingAndGlyphs">640</text>
<line x1="130.2" y1="410.8" x2="135.2" y2="410.8" stroke="#111" stroke-width="1.5" />
<text x="105.94" y="415.3" font-size="12.3" fill="#111" font-weight="normal" textLength="19.56" lengthAdjust="spacingAndGlyphs">160</text>
<line x1="130.2" y1="434.4" x2="135.2" y2="434.4" stroke="#111" stroke-width="1.5" />
<text x="112.46" y="438.9" font-size="12.3" fill="#111" font-weight="normal" textLength="13.04" lengthAdjust="spacingAndGlyphs">40</text>
<line x1="130.2" y1="446.2" x2="135.2" y2="446.2" stroke="#111" stroke-width="1.5" />
<text x="112.46" y="450.7" font-size="12.3" fill="#111" font-weight="normal" textLength="13.04" lengthAdjust="spacingAndGlyphs">20</text>
<line x1="130.2" y1="458" x2="135.2" y2="458" stroke="#111" stroke-width="1.5" />
<text x="112.46" y="462.5" font-size="12.3" fill="#111" font-weight="normal" textLength="13.04" lengthAdjust="spacingAndGlyphs">10</text>
<line x1="146.3" y1="469.5" x2="146.3" y2="474.2" stroke="#111" stroke-width="1.5" />
<line x1="163.4" y1="469.5" x2="163.4" y2="474.2" stroke="#111" stroke-width="1.5" />
<line x1="180.45" y1="469.5" x2="180.45" y2="474.2" stroke="#111" stroke-width="1.5" />
<text x="143.1" y="487.25" font-size="12" fill="#111" font-weight="normal" textLength="6.5" lengthAdjust="spacingAndGlyphs">P</text>
<text x="159.6" y="487.25" font-size="12" fill="#111" font-weight="normal" textLength="7.6" lengthAdjust="spacingAndGlyphs">C</text>
<line x1="144.4" y1="493.02" x2="172.3" y2="493.02" stroke="#111" stroke-width="1.4" />
<text x="143.8" y="508.35" font-size="12.2" fill="#111" font-weight="normal" textLength="27.5" lengthAdjust="spacingAndGlyphs">WA1</text>
<line x1="197.5" y1="469.5" x2="197.5" y2="474.2" stroke="#111" stroke-width="1.5" />
<line x1="214.6" y1="469.5" x2="214.6" y2="474.2" stroke="#111" stroke-width="1.5" />
<line x1="231.65" y1="469.5" x2="231.65" y2="474.2" stroke="#111" stroke-width="1.5" />
<text x="194.3" y="487.25" font-size="12" fill="#111" font-weight="normal" textLength="6.5" lengthAdjust="spacingAndGlyphs">P</text>
<text x="210.8" y="487.25" font-size="12" fill="#111" font-weight="normal" textLength="7.6" lengthAdjust="spacingAndGlyphs">C</text>
<line x1="192.5" y1="493.02" x2="220.4" y2="493.02" stroke="#111" stroke-width="1.4" />
<text x="192.5" y="508.35" font-size="12.2" fill="#111" font-weight="normal" textLength="32.7" lengthAdjust="spacingAndGlyphs">Alpha</text>
<line x1="248.7" y1="469.5" x2="248.7" y2="474.2" stroke="#111" stroke-width="1.5" />
<line x1="265.8" y1="469.5" x2="265.8" y2="474.2" stroke="#111" stroke-width="1.5" />
<line x1="282.85" y1="469.5" x2="282.85" y2="474.2" stroke="#111" stroke-width="1.5" />
<text x="245.5" y="487.25" font-size="12" fill="#111" font-weight="normal" textLength="6.5" lengthAdjust="spacingAndGlyphs">P</text>
<text x="262" y="487.25" font-size="12" fill="#111" font-weight="normal" textLength="7.6" lengthAdjust="spacingAndGlyphs">C</text>
<line x1="242.9" y1="493.02" x2="270.9" y2="493.02" stroke="#111" stroke-width="1.4" />
<text x="244.8" y="508.35" font-size="12.2" fill="#111" font-weight="normal" textLength="25.2" lengthAdjust="spacingAndGlyphs">Beta</text>
<line x1="299.9" y1="469.5" x2="299.9" y2="474.2" stroke="#111" stroke-width="1.5" />
<line x1="317" y1="469.5" x2="317" y2="474.2" stroke="#111" stroke-width="1.5" />
<line x1="334.05" y1="469.5" x2="334.05" y2="474.2" stroke="#111" stroke-width="1.5" />
<text x="296.7" y="487.25" font-size="12" fill="#111" font-weight="normal" textLength="6.5" lengthAdjust="spacingAndGlyphs">P</text>
<text x="313.2" y="487.25" font-size="12" fill="#111" font-weight="normal" textLength="7.6" lengthAdjust="spacingAndGlyphs">C</text>
<line x1="294" y1="493.02" x2="321.7" y2="493.02" stroke="#111" stroke-width="1.4" />
<text x="286.9" y="508.35" font-size="12.2" fill="#111" font-weight="normal" textLength="44" lengthAdjust="spacingAndGlyphs">Gamma</text>
<line x1="351.1" y1="469.5" x2="351.1" y2="474.2" stroke="#111" stroke-width="1.5" />
<line x1="368.2" y1="469.5" x2="368.2" y2="474.2" stroke="#111" stroke-width="1.5" />
<line x1="385.25" y1="469.5" x2="385.25" y2="474.2" stroke="#111" stroke-width="1.5" />
<text x="347.9" y="487.25" font-size="12" fill="#111" font-weight="normal" textLength="6.5" lengthAdjust="spacingAndGlyphs">P</text>
<text x="364.4" y="487.25" font-size="12" fill="#111" font-weight="normal" textLength="7.6" lengthAdjust="spacingAndGlyphs">C</text>
<line x1="346.3" y1="493.02" x2="374.6" y2="493.02" stroke="#111" stroke-width="1.4" />
<text x="345.4" y="508.35" font-size="12.2" fill="#111" font-weight="normal" textLength="29.2" lengthAdjust="spacingAndGlyphs">Delta</text>
<line x1="402.3" y1="469.5" x2="402.3" y2="474.2" stroke="#111" stroke-width="1.5" />
<line x1="419.4" y1="469.5" x2="419.4" y2="474.2" stroke="#111" stroke-width="1.5" />
<text x="399.1" y="487.25" font-size="12" fill="#111" font-weight="normal" textLength="6.5" lengthAdjust="spacingAndGlyphs">P</text>
<text x="415.6" y="487.25" font-size="12" fill="#111" font-weight="normal" textLength="7.6" lengthAdjust="spacingAndGlyphs">C</text>
<line x1="398.3" y1="493.02" x2="426.2" y2="493.02" stroke="#111" stroke-width="1.4" />
<text x="389.2" y="508.35" font-size="12.2" fill="#111" font-weight="normal" textLength="48.5" lengthAdjust="spacingAndGlyphs">Omicron</text>
<polyline points="146.4,329.1 146.4,321.5 165.5,321.5 165.5,329.1" fill="none" stroke="#111" stroke-width="1.5"/>
<text x="147.7" y="317.9" font-size="10.5" fill="#111" font-weight="normal" textLength="17" lengthAdjust="spacingAndGlyphs">n.s.</text>
<polyline points="197.3,333.3 197.3,325.7 216.5,325.7 216.5,333.3" fill="none" stroke="#111" stroke-width="1.5"/>
<text x="198.9" y="321.9" font-size="10.5" fill="#111" font-weight="normal" textLength="16.4" lengthAdjust="spacingAndGlyphs">n.s.</text>
<polyline points="247.9,341.9 247.9,334.7 266.8,334.7 266.8,341.9" fill="none" stroke="#111" stroke-width="1.5"/>
<text x="240.5" y="329.9" font-size="10.5" fill="#111" font-weight="normal" textLength="33.5" lengthAdjust="spacingAndGlyphs">0.0355</text>
<polyline points="299.5,341.9 299.5,334.7 318.4,334.7 318.4,341.9" fill="none" stroke="#111" stroke-width="1.5"/>
<text x="291.8" y="329.9" font-size="10.5" fill="#111" font-weight="normal" textLength="34.1" lengthAdjust="spacingAndGlyphs">0.0379</text>
<polyline points="350.8,338.9 350.8,331.7 370.5,331.7 370.5,338.9" fill="none" stroke="#111" stroke-width="1.5"/>
<text x="352.3" y="327.5" font-size="10.5" fill="#111" font-weight="normal" textLength="16.2" lengthAdjust="spacingAndGlyphs">n.s.</text>
<polyline points="401.6,372.5 401.6,366 421.2,366 421.2,372.5" fill="none" stroke="#111" stroke-width="1.5"/>
<text x="394.7" y="361.1" font-size="10.5" fill="#111" font-weight="normal" textLength="32.9" lengthAdjust="spacingAndGlyphs">0.0008</text>
<text transform="translate(84,446.4) rotate(-90)" x="0" y="0" font-size="14.5" fill="#262626" textLength="118" lengthAdjust="spacingAndGlyphs">50% Neutralization titer</text>
<line x1="143.4" y1="458" x2="149.2" y2="458" stroke="#c8102e" stroke-width="5" stroke-linecap="round"/>
<line x1="194.6" y1="458" x2="200.4" y2="458" stroke="#c8102e" stroke-width="5" stroke-linecap="round"/>
<line x1="245.8" y1="458" x2="251.6" y2="458" stroke="#c8102e" stroke-width="5" stroke-linecap="round"/>
<line x1="297" y1="458" x2="302.8" y2="458" stroke="#c8102e" stroke-width="5" stroke-linecap="round"/>
<line x1="348.2" y1="458" x2="354" y2="458" stroke="#c8102e" stroke-width="5" stroke-linecap="round"/>
<line x1="399.4" y1="458" x2="405.2" y2="458" stroke="#c8102e" stroke-width="5" stroke-linecap="round"/>
</g>
<text x="10" y="540" font-size="17.5" fill="#111" font-weight="bold" textLength="11.3" lengthAdjust="spacingAndGlyphs">C</text>
<text x="101.5" y="540.5" font-size="14.5" fill="#111" font-weight="normal" textLength="153.9" lengthAdjust="spacingAndGlyphs">RBD ELISA: 2nd-vaccine</text>
<text x="54.5" y="560" font-size="10.8" fill="#111" font-weight="normal" textLength="28" lengthAdjust="spacingAndGlyphs">GMT:</text>
<text x="94.6" y="560" font-size="10.8" fill="#c81a3e" font-weight="normal" textLength="24.2" lengthAdjust="spacingAndGlyphs">4060</text>
<text x="128.5" y="560" font-size="10.8" fill="#215f9a" font-weight="normal" textLength="28.8" lengthAdjust="spacingAndGlyphs">14844</text>
<text x="202.3" y="560" font-size="10.8" fill="#c81a3e" font-weight="normal" textLength="23.1" lengthAdjust="spacingAndGlyphs">1178</text>
<text x="238" y="560" font-size="10.8" fill="#215f9a" font-weight="normal" textLength="23.2" lengthAdjust="spacingAndGlyphs">5755</text>
<line x1="83.6" y1="678.4" x2="273.4" y2="678.4" stroke="#111" stroke-width="1.8" stroke-dasharray="4.9 4.69" stroke-dashoffset="-7"/>
<rect x="95.1" y="638.4" width="24" height="64.7" fill="#e28696"/>
<rect x="131" y="625.6" width="23.5" height="77.5" fill="#88a7c4"/>
<rect x="202.1" y="652" width="23.7" height="51.1" fill="#e28696"/>
<rect x="238" y="634.6" width="23.3" height="68.5" fill="#88a7c4"/>
<line x1="107.1" y1="631.4" x2="107.1" y2="645.3" stroke="#111" stroke-width="1.4" />
<line x1="101.35" y1="645.3" x2="112.85" y2="645.3" stroke="#111" stroke-width="1.4" />
<line x1="142.6" y1="620.7" x2="142.6" y2="627.6" stroke="#111" stroke-width="1.4" />
<line x1="136.85" y1="620.7" x2="148.35" y2="620.7" stroke="#111" stroke-width="1.4" />
<line x1="136.85" y1="627.6" x2="148.35" y2="627.6" stroke="#111" stroke-width="1.4" />
<line x1="214.1" y1="646.5" x2="214.1" y2="657.7" stroke="#111" stroke-width="1.4" />
<line x1="208.35" y1="657.7" x2="219.85" y2="657.7" stroke="#111" stroke-width="1.4" />
<line x1="249.5" y1="630" x2="249.5" y2="637.9" stroke="#111" stroke-width="1.4" />
<line x1="243.75" y1="637.9" x2="255.25" y2="637.9" stroke="#111" stroke-width="1.4" />
<circle cx="106.8" cy="599.5" r="2.5" fill="#c8102e"/>
<circle cx="111.2" cy="605.8" r="2.5" fill="#c8102e"/>
<circle cx="105.4" cy="607.3" r="2.5" fill="#c8102e"/>
<circle cx="108.3" cy="609.7" r="2.5" fill="#c8102e"/>
<circle cx="102.9" cy="613.7" r="2.5" fill="#c8102e"/>
<circle cx="110.5" cy="617.8" r="2.5" fill="#c8102e"/>
<circle cx="103.9" cy="620.7" r="2.5" fill="#c8102e"/>
<circle cx="107.3" cy="622.9" r="2.5" fill="#c8102e"/>
<circle cx="110.5" cy="625.8" r="2.5" fill="#c8102e"/>
<circle cx="97.6" cy="630.2" r="2.5" fill="#c8102e"/>
<circle cx="102.4" cy="629.8" r="2.5" fill="#c8102e"/>
<circle cx="106.1" cy="628.7" r="2.5" fill="#c8102e"/>
<circle cx="111.9" cy="630.2" r="2.5" fill="#c8102e"/>
<circle cx="116.3" cy="631.7" r="2.5" fill="#c8102e"/>
<circle cx="101" cy="633.9" r="2.5" fill="#c8102e"/>
<circle cx="107.5" cy="633.9" r="2.5" fill="#c8102e"/>
<circle cx="113.4" cy="632.4" r="2.5" fill="#c8102e"/>
<circle cx="103.9" cy="637.5" r="2.5" fill="#c8102e"/>
<circle cx="110.5" cy="637.5" r="2.5" fill="#c8102e"/>
<circle cx="106.1" cy="641.2" r="2.5" fill="#c8102e"/>
<circle cx="109" cy="640.4" r="2.5" fill="#c8102e"/>
<circle cx="107.5" cy="643.4" r="2.5" fill="#c8102e"/>
<circle cx="105.4" cy="650.7" r="2.5" fill="#c8102e"/>
<circle cx="111.2" cy="651.4" r="2.5" fill="#c8102e"/>
<circle cx="102.9" cy="655.8" r="2.5" fill="#c8102e"/>
<circle cx="106.8" cy="660.9" r="2.5" fill="#c8102e"/>
<circle cx="111.2" cy="660.2" r="2.5" fill="#c8102e"/>
<circle cx="104.6" cy="663.1" r="2.5" fill="#c8102e"/>
<circle cx="103.9" cy="667.5" r="2.5" fill="#c8102e"/>
<circle cx="109" cy="668.9" r="2.5" fill="#c8102e"/>
<circle cx="105.4" cy="674.1" r="2.5" fill="#c8102e"/>
<circle cx="108.3" cy="677.7" r="2.5" fill="#c8102e"/>
<circle cx="106.8" cy="685.8" r="2.5" fill="#c8102e"/>
<circle cx="144.3" cy="617.2" r="2.5" fill="#0d4a85"/>
<circle cx="142.7" cy="620.1" r="2.5" fill="#0d4a85"/>
<circle cx="134.8" cy="620.7" r="2.5" fill="#0d4a85"/>
<circle cx="139.1" cy="621.1" r="2.5" fill="#0d4a85"/>
<circle cx="132.9" cy="623.7" r="2.5" fill="#0d4a85"/>
<circle cx="136.5" cy="623" r="2.5" fill="#0d4a85"/>
<circle cx="141" cy="623.4" r="2.5" fill="#0d4a85"/>
<circle cx="145.6" cy="622.4" r="2.5" fill="#0d4a85"/>
<circle cx="149.5" cy="622.1" r="2.5" fill="#0d4a85"/>
<circle cx="152.8" cy="624.3" r="2.5" fill="#0d4a85"/>
<circle cx="142.3" cy="625" r="2.5" fill="#0d4a85"/>
<circle cx="139.1" cy="624.7" r="2.5" fill="#0d4a85"/>
<circle cx="145.6" cy="625" r="2.5" fill="#0d4a85"/>
<circle cx="142.7" cy="646.6" r="2.5" fill="#0d4a85"/>
<circle cx="212.2" cy="615.2" r="2.5" fill="#c8102e"/>
<circle cx="215.2" cy="615.2" r="2.5" fill="#c8102e"/>
<circle cx="212.8" cy="623.9" r="2.5" fill="#c8102e"/>
<circle cx="209.8" cy="627.5" r="2.5" fill="#c8102e"/>
<circle cx="215.2" cy="630.1" r="2.5" fill="#c8102e"/>
<circle cx="209.8" cy="633.5" r="2.5" fill="#c8102e"/>
<circle cx="220.6" cy="632.8" r="2.5" fill="#c8102e"/>
<circle cx="204.4" cy="640.3" r="2.5" fill="#c8102e"/>
<circle cx="210.4" cy="640.3" r="2.5" fill="#c8102e"/>
<circle cx="215.2" cy="637.1" r="2.5" fill="#c8102e"/>
<circle cx="219.4" cy="637.3" r="2.5" fill="#c8102e"/>
<circle cx="223.5" cy="640.9" r="2.5" fill="#c8102e"/>
<circle cx="217.6" cy="640.3" r="2.5" fill="#c8102e"/>
<circle cx="207.4" cy="646.9" r="2.5" fill="#c8102e"/>
<circle cx="212.8" cy="643.9" r="2.5" fill="#c8102e"/>
<circle cx="215.8" cy="645.7" r="2.5" fill="#c8102e"/>
<circle cx="220.6" cy="642.7" r="2.5" fill="#c8102e"/>
<circle cx="220" cy="648.1" r="2.5" fill="#c8102e"/>
<circle cx="212.2" cy="652.3" r="2.5" fill="#c8102e"/>
<circle cx="215.2" cy="652.9" r="2.5" fill="#c8102e"/>
<circle cx="209.8" cy="658.9" r="2.5" fill="#c8102e"/>
<circle cx="217.6" cy="658.7" r="2.5" fill="#c8102e"/>
<circle cx="212.8" cy="663.1" r="2.5" fill="#c8102e"/>
<circle cx="204.4" cy="675.7" r="2.5" fill="#c8102e"/>
<circle cx="208" cy="675.1" r="2.5" fill="#c8102e"/>
<circle cx="210.4" cy="677.8" r="2.5" fill="#c8102e"/>
<circle cx="215.2" cy="674.2" r="2.5" fill="#c8102e"/>
<circle cx="215.2" cy="679.3" r="2.5" fill="#c8102e"/>
<circle cx="219.4" cy="675.7" r="2.5" fill="#c8102e"/>
<circle cx="223.5" cy="673.9" r="2.5" fill="#c8102e"/>
<circle cx="212.2" cy="685.8" r="2.5" fill="#c8102e"/>
<circle cx="215.2" cy="685.8" r="2.5" fill="#c8102e"/>
<circle cx="239.5" cy="630.5" r="2.5" fill="#0d4a85"/>
<circle cx="242.5" cy="629.5" r="2.5" fill="#0d4a85"/>
<circle cx="246" cy="629.8" r="2.5" fill="#0d4a85"/>
<circle cx="250.5" cy="627.8" r="2.5" fill="#0d4a85"/>
<circle cx="254" cy="629.5" r="2.5" fill="#0d4a85"/>
<circle cx="257" cy="630.5" r="2.5" fill="#0d4a85"/>
<circle cx="259.5" cy="629.5" r="2.5" fill="#0d4a85"/>
<circle cx="249.5" cy="631.5" r="2.5" fill="#0d4a85"/>
<circle cx="247.5" cy="633.5" r="2.5" fill="#0d4a85"/>
<circle cx="251.5" cy="633.5" r="2.5" fill="#0d4a85"/>
<circle cx="247" cy="636" r="2.5" fill="#0d4a85"/>
<circle cx="252" cy="636" r="2.5" fill="#0d4a85"/>
<circle cx="249.6" cy="637.2" r="2.5" fill="#0d4a85"/>
<circle cx="249.3" cy="645.8" r="2.5" fill="#0d4a85"/>
<circle cx="249.3" cy="651.3" r="2.5" fill="#0d4a85"/>
<line x1="81" y1="695.6" x2="83.6" y2="695.6" stroke="#111" stroke-width="1.0" />
<line x1="81" y1="691.22" x2="83.6" y2="691.22" stroke="#111" stroke-width="1.0" />
<line x1="81" y1="688.11" x2="83.6" y2="688.11" stroke="#111" stroke-width="1.0" />
<line x1="81" y1="685.7" x2="83.6" y2="685.7" stroke="#111" stroke-width="1.0" />
<line x1="81" y1="683.72" x2="83.6" y2="683.72" stroke="#111" stroke-width="1.0" />
<line x1="81" y1="682.06" x2="83.6" y2="682.06" stroke="#111" stroke-width="1.0" />
<line x1="81" y1="680.61" x2="83.6" y2="680.61" stroke="#111" stroke-width="1.0" />
<line x1="81" y1="679.34" x2="83.6" y2="679.34" stroke="#111" stroke-width="1.0" />
<line x1="81" y1="670.7" x2="83.6" y2="670.7" stroke="#111" stroke-width="1.0" />
<line x1="81" y1="666.32" x2="83.6" y2="666.32" stroke="#111" stroke-width="1.0" />
<line x1="81" y1="663.21" x2="83.6" y2="663.21" stroke="#111" stroke-width="1.0" />
<line x1="81" y1="660.8" x2="83.6" y2="660.8" stroke="#111" stroke-width="1.0" />
<line x1="81" y1="658.82" x2="83.6" y2="658.82" stroke="#111" stroke-width="1.0" />
<line x1="81" y1="657.16" x2="83.6" y2="657.16" stroke="#111" stroke-width="1.0" />
<line x1="81" y1="655.71" x2="83.6" y2="655.71" stroke="#111" stroke-width="1.0" />
<line x1="81" y1="654.44" x2="83.6" y2="654.44" stroke="#111" stroke-width="1.0" />
<line x1="81" y1="645.8" x2="83.6" y2="645.8" stroke="#111" stroke-width="1.0" />
<line x1="81" y1="641.42" x2="83.6" y2="641.42" stroke="#111" stroke-width="1.0" />
<line x1="81" y1="638.31" x2="83.6" y2="638.31" stroke="#111" stroke-width="1.0" />
<line x1="81" y1="635.9" x2="83.6" y2="635.9" stroke="#111" stroke-width="1.0" />
<line x1="81" y1="633.92" x2="83.6" y2="633.92" stroke="#111" stroke-width="1.0" />
<line x1="81" y1="632.26" x2="83.6" y2="632.26" stroke="#111" stroke-width="1.0" />
<line x1="81" y1="630.81" x2="83.6" y2="630.81" stroke="#111" stroke-width="1.0" />
<line x1="81" y1="629.54" x2="83.6" y2="629.54" stroke="#111" stroke-width="1.0" />
<line x1="81" y1="620.9" x2="83.6" y2="620.9" stroke="#111" stroke-width="1.0" />
<line x1="81" y1="616.52" x2="83.6" y2="616.52" stroke="#111" stroke-width="1.0" />
<line x1="81" y1="613.41" x2="83.6" y2="613.41" stroke="#111" stroke-width="1.0" />
<line x1="81" y1="611" x2="83.6" y2="611" stroke="#111" stroke-width="1.0" />
<line x1="81" y1="609.02" x2="83.6" y2="609.02" stroke="#111" stroke-width="1.0" />
<line x1="81" y1="607.36" x2="83.6" y2="607.36" stroke="#111" stroke-width="1.0" />
<line x1="81" y1="605.91" x2="83.6" y2="605.91" stroke="#111" stroke-width="1.0" />
<line x1="81" y1="604.64" x2="83.6" y2="604.64" stroke="#111" stroke-width="1.0" />
<line x1="81" y1="596" x2="83.6" y2="596" stroke="#111" stroke-width="1.0" />
<line x1="81" y1="591.62" x2="83.6" y2="591.62" stroke="#111" stroke-width="1.0" />
<line x1="81" y1="588.51" x2="83.6" y2="588.51" stroke="#111" stroke-width="1.0" />
<line x1="81" y1="586.1" x2="83.6" y2="586.1" stroke="#111" stroke-width="1.0" />
<line x1="81" y1="584.12" x2="83.6" y2="584.12" stroke="#111" stroke-width="1.0" />
<line x1="81" y1="582.46" x2="83.6" y2="582.46" stroke="#111" stroke-width="1.0" />
<line x1="81" y1="581.01" x2="83.6" y2="581.01" stroke="#111" stroke-width="1.0" />
<line x1="81" y1="579.74" x2="83.6" y2="579.74" stroke="#111" stroke-width="1.0" />
<line x1="78.6" y1="703.1" x2="83.6" y2="703.1" stroke="#111" stroke-width="1.5" />
<text x="60.86" y="707.6" font-size="12.3" fill="#111" font-weight="normal" textLength="13.04" lengthAdjust="spacingAndGlyphs">10</text>
<line x1="78.6" y1="678.2" x2="83.6" y2="678.2" stroke="#111" stroke-width="1.5" />
<text x="54.34" y="682.7" font-size="12.3" fill="#111" font-weight="normal" textLength="19.56" lengthAdjust="spacingAndGlyphs">100</text>
<line x1="78.6" y1="653.3" x2="83.6" y2="653.3" stroke="#111" stroke-width="1.5" />
<text x="47.82" y="657.8" font-size="12.3" fill="#111" font-weight="normal" textLength="26.08" lengthAdjust="spacingAndGlyphs">1000</text>
<line x1="78.6" y1="628.4" x2="83.6" y2="628.4" stroke="#111" stroke-width="1.5" />
<text x="41.3" y="632.9" font-size="12.3" fill="#111" font-weight="normal" textLength="32.6" lengthAdjust="spacingAndGlyphs">10000</text>
<line x1="78.6" y1="603.5" x2="83.6" y2="603.5" stroke="#111" stroke-width="1.5" />
<text x="34.78" y="608" font-size="12.3" fill="#111" font-weight="normal" textLength="39.12" lengthAdjust="spacingAndGlyphs">100000</text>
<line x1="78.6" y1="578.6" x2="83.6" y2="578.6" stroke="#111" stroke-width="1.5" />
<text x="28.26" y="583.1" font-size="12.3" fill="#111" font-weight="normal" textLength="45.64" lengthAdjust="spacingAndGlyphs">1000000</text>
<line x1="83.6" y1="572.4" x2="83.6" y2="703.85" stroke="#111" stroke-width="1.6" />
<line x1="82.8" y1="703.1" x2="273.4" y2="703.1" stroke="#111" stroke-width="1.6" />
<line x1="107.1" y1="703.1" x2="107.1" y2="707.6" stroke="#111" stroke-width="1.5" />
<line x1="142.5" y1="703.1" x2="142.5" y2="707.6" stroke="#111" stroke-width="1.5" />
<text x="103.9" y="721" font-size="12" fill="#111" font-weight="normal" textLength="6.5" lengthAdjust="spacingAndGlyphs">P</text>
<text x="138.7" y="721" font-size="12" fill="#111" font-weight="normal" textLength="7.6" lengthAdjust="spacingAndGlyphs">C</text>
<line x1="98.6" y1="725.9" x2="157.2" y2="725.9" stroke="#111" stroke-width="1.4" />
<text x="113.8" y="741.1" font-size="12.2" fill="#111" font-weight="normal" textLength="27.5" lengthAdjust="spacingAndGlyphs">WA1</text>
<polyline points="105.5,588 105.5,582.3 147.1,582.3 147.1,588" fill="none" stroke="#111" stroke-width="1.5"/>
<text x="118.2" y="575.8" font-size="10.5" fill="#111" font-weight="normal" textLength="15.8" lengthAdjust="spacingAndGlyphs">n.s.</text>
<line x1="214.1" y1="703.1" x2="214.1" y2="707.6" stroke="#111" stroke-width="1.5" />
<line x1="249.6" y1="703.1" x2="249.6" y2="707.6" stroke="#111" stroke-width="1.5" />
<text x="210.9" y="721" font-size="12" fill="#111" font-weight="normal" textLength="6.5" lengthAdjust="spacingAndGlyphs">P</text>
<text x="245.8" y="721" font-size="12" fill="#111" font-weight="normal" textLength="7.6" lengthAdjust="spacingAndGlyphs">C</text>
<line x1="203.4" y1="725.9" x2="261.7" y2="725.9" stroke="#111" stroke-width="1.4" />
<text x="207.7" y="741.1" font-size="12.2" fill="#111" font-weight="normal" textLength="48.8" lengthAdjust="spacingAndGlyphs">Omicron</text>
<polyline points="213.7,605.8 213.7,600.1 253,600.1 253,605.8" fill="none" stroke="#111" stroke-width="1.5"/>
<text x="216.3" y="593.7" font-size="10.5" fill="#111" font-weight="normal" textLength="33.8" lengthAdjust="spacingAndGlyphs">0.0456</text>
<line x1="178.3" y1="703.1" x2="178.3" y2="707.6" stroke="#111" stroke-width="1.5" />
<text transform="translate(22,698.8) rotate(-90)" x="0" y="0" font-size="14.2" fill="#262626" textLength="116.5" lengthAdjust="spacingAndGlyphs">RBD-IgG end-point titer</text>
<text x="301" y="540" font-size="17.5" fill="#111" font-weight="bold" textLength="11.8" lengthAdjust="spacingAndGlyphs">D</text>
<text x="343.9" y="540.5" font-size="14.5" fill="#111" font-weight="normal" textLength="149.3" lengthAdjust="spacingAndGlyphs">RBD ELISA: 3rd-vaccine</text>
<text x="334.8" y="560" font-size="10.8" fill="#c81a3e" font-weight="normal" textLength="23.9" lengthAdjust="spacingAndGlyphs">4074</text>
<text x="373.5" y="560" font-size="10.8" fill="#215f9a" font-weight="normal" textLength="29.4" lengthAdjust="spacingAndGlyphs">46372</text>
<text x="437.1" y="560" font-size="10.8" fill="#c81a3e" font-weight="normal" textLength="22.4" lengthAdjust="spacingAndGlyphs">1621</text>
<text x="475.7" y="560" font-size="10.8" fill="#215f9a" font-weight="normal" textLength="29.6" lengthAdjust="spacingAndGlyphs">16519</text>
<line x1="328.2" y1="678.4" x2="508.2" y2="678.4" stroke="#111" stroke-width="1.8" stroke-dasharray="4.9 4.69" stroke-dashoffset="-7"/>
<rect x="339.4" y="638.3" width="22.5" height="64.8" fill="#e28696"/>
<rect x="373.3" y="611.9" width="22.8" height="91.2" fill="#88a7c4"/>
<rect x="441.1" y="648.2" width="22.2" height="54.9" fill="#e28696"/>
<rect x="475" y="622.9" width="22.5" height="80.2" fill="#88a7c4"/>
<line x1="350.8" y1="623" x2="350.8" y2="653.4" stroke="#111" stroke-width="1.4" />
<line x1="345.05" y1="623" x2="356.55" y2="623" stroke="#111" stroke-width="1.4" />
<line x1="345.05" y1="653.4" x2="356.55" y2="653.4" stroke="#111" stroke-width="1.4" />
<line x1="452" y1="634.5" x2="452" y2="662.2" stroke="#111" stroke-width="1.4" />
<line x1="446.25" y1="634.5" x2="457.75" y2="634.5" stroke="#111" stroke-width="1.4" />
<line x1="446.25" y1="662.2" x2="457.75" y2="662.2" stroke="#111" stroke-width="1.4" />
<circle cx="350.5" cy="590.6" r="2.5" fill="#c8102e"/>
<circle cx="350.5" cy="614.8" r="2.5" fill="#c8102e"/>
<circle cx="353.5" cy="629" r="2.5" fill="#c8102e"/>
<circle cx="347.5" cy="632.8" r="2.5" fill="#c8102e"/>
<circle cx="342" cy="639.7" r="2.5" fill="#c8102e"/>
<circle cx="347.5" cy="640.3" r="2.5" fill="#c8102e"/>
<circle cx="353.5" cy="639.9" r="2.5" fill="#c8102e"/>
<circle cx="359.5" cy="641.1" r="2.5" fill="#c8102e"/>
<circle cx="348" cy="656.8" r="2.5" fill="#c8102e"/>
<circle cx="353.5" cy="660.3" r="2.5" fill="#c8102e"/>
<circle cx="350.5" cy="676.7" r="2.5" fill="#c8102e"/>
<circle cx="380.5" cy="606.5" r="2.5" fill="#0d4a85"/>
<circle cx="388" cy="605.7" r="2.5" fill="#0d4a85"/>
<circle cx="375.5" cy="607.9" r="2.5" fill="#0d4a85"/>
<circle cx="393" cy="607.4" r="2.5" fill="#0d4a85"/>
<circle cx="397" cy="610.3" r="2.5" fill="#0d4a85"/>
<circle cx="383" cy="610.3" r="2.5" fill="#0d4a85"/>
<circle cx="390" cy="612.1" r="2.5" fill="#0d4a85"/>
<circle cx="378" cy="614.3" r="2.5" fill="#0d4a85"/>
<circle cx="385" cy="615.2" r="2.5" fill="#0d4a85"/>
<circle cx="391" cy="616.6" r="2.5" fill="#0d4a85"/>
<circle cx="381" cy="618.3" r="2.5" fill="#0d4a85"/>
<circle cx="386" cy="618.6" r="2.5" fill="#0d4a85"/>
<circle cx="380.5" cy="621.2" r="2.5" fill="#0d4a85"/>
<circle cx="389" cy="610.8" r="2.5" fill="#0d4a85"/>
<circle cx="452.5" cy="608.5" r="2.5" fill="#c8102e"/>
<circle cx="452.5" cy="622.4" r="2.5" fill="#c8102e"/>
<circle cx="447.5" cy="637.1" r="2.5" fill="#c8102e"/>
<circle cx="457.5" cy="640.9" r="2.5" fill="#c8102e"/>
<circle cx="447.5" cy="645.4" r="2.5" fill="#c8102e"/>
<circle cx="457.5" cy="647.8" r="2.5" fill="#c8102e"/>
<circle cx="447.5" cy="652.3" r="2.5" fill="#c8102e"/>
<circle cx="452.5" cy="659.2" r="2.5" fill="#c8102e"/>
<circle cx="447.5" cy="667.3" r="2.5" fill="#c8102e"/>
<circle cx="457.5" cy="672" r="2.5" fill="#c8102e"/>
<circle cx="452.5" cy="677.2" r="2.5" fill="#c8102e"/>
<circle cx="476" cy="621.2" r="2.5" fill="#0d4a85"/>
<circle cx="481" cy="618.9" r="2.5" fill="#0d4a85"/>
<circle cx="486" cy="617.2" r="2.5" fill="#0d4a85"/>
<circle cx="490" cy="620.1" r="2.5" fill="#0d4a85"/>
<circle cx="494.5" cy="620.7" r="2.5" fill="#0d4a85"/>
<circle cx="483" cy="621.5" r="2.5" fill="#0d4a85"/>
<circle cx="488" cy="623.3" r="2.5" fill="#0d4a85"/>
<circle cx="478.5" cy="623.3" r="2.5" fill="#0d4a85"/>
<circle cx="493" cy="625" r="2.5" fill="#0d4a85"/>
<circle cx="482" cy="626.7" r="2.5" fill="#0d4a85"/>
<circle cx="486" cy="626.7" r="2.5" fill="#0d4a85"/>
<circle cx="477" cy="628.8" r="2.5" fill="#0d4a85"/>
<circle cx="483.5" cy="629.3" r="2.5" fill="#0d4a85"/>
<circle cx="490" cy="631" r="2.5" fill="#0d4a85"/>
<line x1="325.6" y1="695.6" x2="328.2" y2="695.6" stroke="#111" stroke-width="1.0" />
<line x1="325.6" y1="691.22" x2="328.2" y2="691.22" stroke="#111" stroke-width="1.0" />
<line x1="325.6" y1="688.11" x2="328.2" y2="688.11" stroke="#111" stroke-width="1.0" />
<line x1="325.6" y1="685.7" x2="328.2" y2="685.7" stroke="#111" stroke-width="1.0" />
<line x1="325.6" y1="683.72" x2="328.2" y2="683.72" stroke="#111" stroke-width="1.0" />
<line x1="325.6" y1="682.06" x2="328.2" y2="682.06" stroke="#111" stroke-width="1.0" />
<line x1="325.6" y1="680.61" x2="328.2" y2="680.61" stroke="#111" stroke-width="1.0" />
<line x1="325.6" y1="679.34" x2="328.2" y2="679.34" stroke="#111" stroke-width="1.0" />
<line x1="325.6" y1="670.7" x2="328.2" y2="670.7" stroke="#111" stroke-width="1.0" />
<line x1="325.6" y1="666.32" x2="328.2" y2="666.32" stroke="#111" stroke-width="1.0" />
<line x1="325.6" y1="663.21" x2="328.2" y2="663.21" stroke="#111" stroke-width="1.0" />
<line x1="325.6" y1="660.8" x2="328.2" y2="660.8" stroke="#111" stroke-width="1.0" />
<line x1="325.6" y1="658.82" x2="328.2" y2="658.82" stroke="#111" stroke-width="1.0" />
<line x1="325.6" y1="657.16" x2="328.2" y2="657.16" stroke="#111" stroke-width="1.0" />
<line x1="325.6" y1="655.71" x2="328.2" y2="655.71" stroke="#111" stroke-width="1.0" />
<line x1="325.6" y1="654.44" x2="328.2" y2="654.44" stroke="#111" stroke-width="1.0" />
<line x1="325.6" y1="645.8" x2="328.2" y2="645.8" stroke="#111" stroke-width="1.0" />
<line x1="325.6" y1="641.42" x2="328.2" y2="641.42" stroke="#111" stroke-width="1.0" />
<line x1="325.6" y1="638.31" x2="328.2" y2="638.31" stroke="#111" stroke-width="1.0" />
<line x1="325.6" y1="635.9" x2="328.2" y2="635.9" stroke="#111" stroke-width="1.0" />
<line x1="325.6" y1="633.92" x2="328.2" y2="633.92" stroke="#111" stroke-width="1.0" />
<line x1="325.6" y1="632.26" x2="328.2" y2="632.26" stroke="#111" stroke-width="1.0" />
<line x1="325.6" y1="630.81" x2="328.2" y2="630.81" stroke="#111" stroke-width="1.0" />
<line x1="325.6" y1="629.54" x2="328.2" y2="629.54" stroke="#111" stroke-width="1.0" />
<line x1="325.6" y1="620.9" x2="328.2" y2="620.9" stroke="#111" stroke-width="1.0" />
<line x1="325.6" y1="616.52" x2="328.2" y2="616.52" stroke="#111" stroke-width="1.0" />
<line x1="325.6" y1="613.41" x2="328.2" y2="613.41" stroke="#111" stroke-width="1.0" />
<line x1="325.6" y1="611" x2="328.2" y2="611" stroke="#111" stroke-width="1.0" />
<line x1="325.6" y1="609.02" x2="328.2" y2="609.02" stroke="#111" stroke-width="1.0" />
<line x1="325.6" y1="607.36" x2="328.2" y2="607.36" stroke="#111" stroke-width="1.0" />
<line x1="325.6" y1="605.91" x2="328.2" y2="605.91" stroke="#111" stroke-width="1.0" />
<line x1="325.6" y1="604.64" x2="328.2" y2="604.64" stroke="#111" stroke-width="1.0" />
<line x1="325.6" y1="596" x2="328.2" y2="596" stroke="#111" stroke-width="1.0" />
<line x1="325.6" y1="591.62" x2="328.2" y2="591.62" stroke="#111" stroke-width="1.0" />
<line x1="325.6" y1="588.51" x2="328.2" y2="588.51" stroke="#111" stroke-width="1.0" />
<line x1="325.6" y1="586.1" x2="328.2" y2="586.1" stroke="#111" stroke-width="1.0" />
<line x1="325.6" y1="584.12" x2="328.2" y2="584.12" stroke="#111" stroke-width="1.0" />
<line x1="325.6" y1="582.46" x2="328.2" y2="582.46" stroke="#111" stroke-width="1.0" />
<line x1="325.6" y1="581.01" x2="328.2" y2="581.01" stroke="#111" stroke-width="1.0" />
<line x1="325.6" y1="579.74" x2="328.2" y2="579.74" stroke="#111" stroke-width="1.0" />
<line x1="323.2" y1="703.1" x2="328.2" y2="703.1" stroke="#111" stroke-width="1.5" />
<line x1="323.2" y1="678.2" x2="328.2" y2="678.2" stroke="#111" stroke-width="1.5" />
<line x1="323.2" y1="653.3" x2="328.2" y2="653.3" stroke="#111" stroke-width="1.5" />
<line x1="323.2" y1="628.4" x2="328.2" y2="628.4" stroke="#111" stroke-width="1.5" />
<line x1="323.2" y1="603.5" x2="328.2" y2="603.5" stroke="#111" stroke-width="1.5" />
<line x1="323.2" y1="578.6" x2="328.2" y2="578.6" stroke="#111" stroke-width="1.5" />
<line x1="328.2" y1="572.4" x2="328.2" y2="703.85" stroke="#111" stroke-width="1.6" />
<line x1="327.4" y1="703.1" x2="508.2" y2="703.1" stroke="#111" stroke-width="1.6" />
<line x1="350.8" y1="703.1" x2="350.8" y2="707.6" stroke="#111" stroke-width="1.5" />
<line x1="384.4" y1="703.1" x2="384.4" y2="707.6" stroke="#111" stroke-width="1.5" />
<text x="347.6" y="721" font-size="12" fill="#111" font-weight="normal" textLength="6.5" lengthAdjust="spacingAndGlyphs">P</text>
<text x="380.6" y="721" font-size="12" fill="#111" font-weight="normal" textLength="7.6" lengthAdjust="spacingAndGlyphs">C</text>
<line x1="341.1" y1="725.9" x2="399.6" y2="725.9" stroke="#111" stroke-width="1.4" />
<text x="356.3" y="741.1" font-size="12.2" fill="#111" font-weight="normal" textLength="26.8" lengthAdjust="spacingAndGlyphs">WA1</text>
<polyline points="341.1,582 341.1,575.7 396.5,575.7 396.5,582" fill="none" stroke="#111" stroke-width="1.5"/>
<text x="360.8" y="569.7" font-size="10.5" fill="#111" font-weight="normal" textLength="15.9" lengthAdjust="spacingAndGlyphs">n.s.</text>
<line x1="452" y1="703.1" x2="452" y2="707.6" stroke="#111" stroke-width="1.5" />
<line x1="485.7" y1="703.1" x2="485.7" y2="707.6" stroke="#111" stroke-width="1.5" />
<text x="448.8" y="721" font-size="12" fill="#111" font-weight="normal" textLength="6.5" lengthAdjust="spacingAndGlyphs">P</text>
<text x="481.9" y="721" font-size="12" fill="#111" font-weight="normal" textLength="7.6" lengthAdjust="spacingAndGlyphs">C</text>
<line x1="441.6" y1="725.9" x2="500.4" y2="725.9" stroke="#111" stroke-width="1.4" />
<text x="446.8" y="741.1" font-size="12.2" fill="#111" font-weight="normal" textLength="48.5" lengthAdjust="spacingAndGlyphs">Omicron</text>
<polyline points="442.5,600.8 442.5,594.7 499.6,594.7 499.6,600.8" fill="none" stroke="#111" stroke-width="1.5"/>
<text x="453.7" y="588.7" font-size="10.5" fill="#111" font-weight="normal" textLength="33.8" lengthAdjust="spacingAndGlyphs">0.0397</text>
<line x1="418.2" y1="703.1" x2="418.2" y2="707.6" stroke="#111" stroke-width="1.5" />
</svg></body></html>
